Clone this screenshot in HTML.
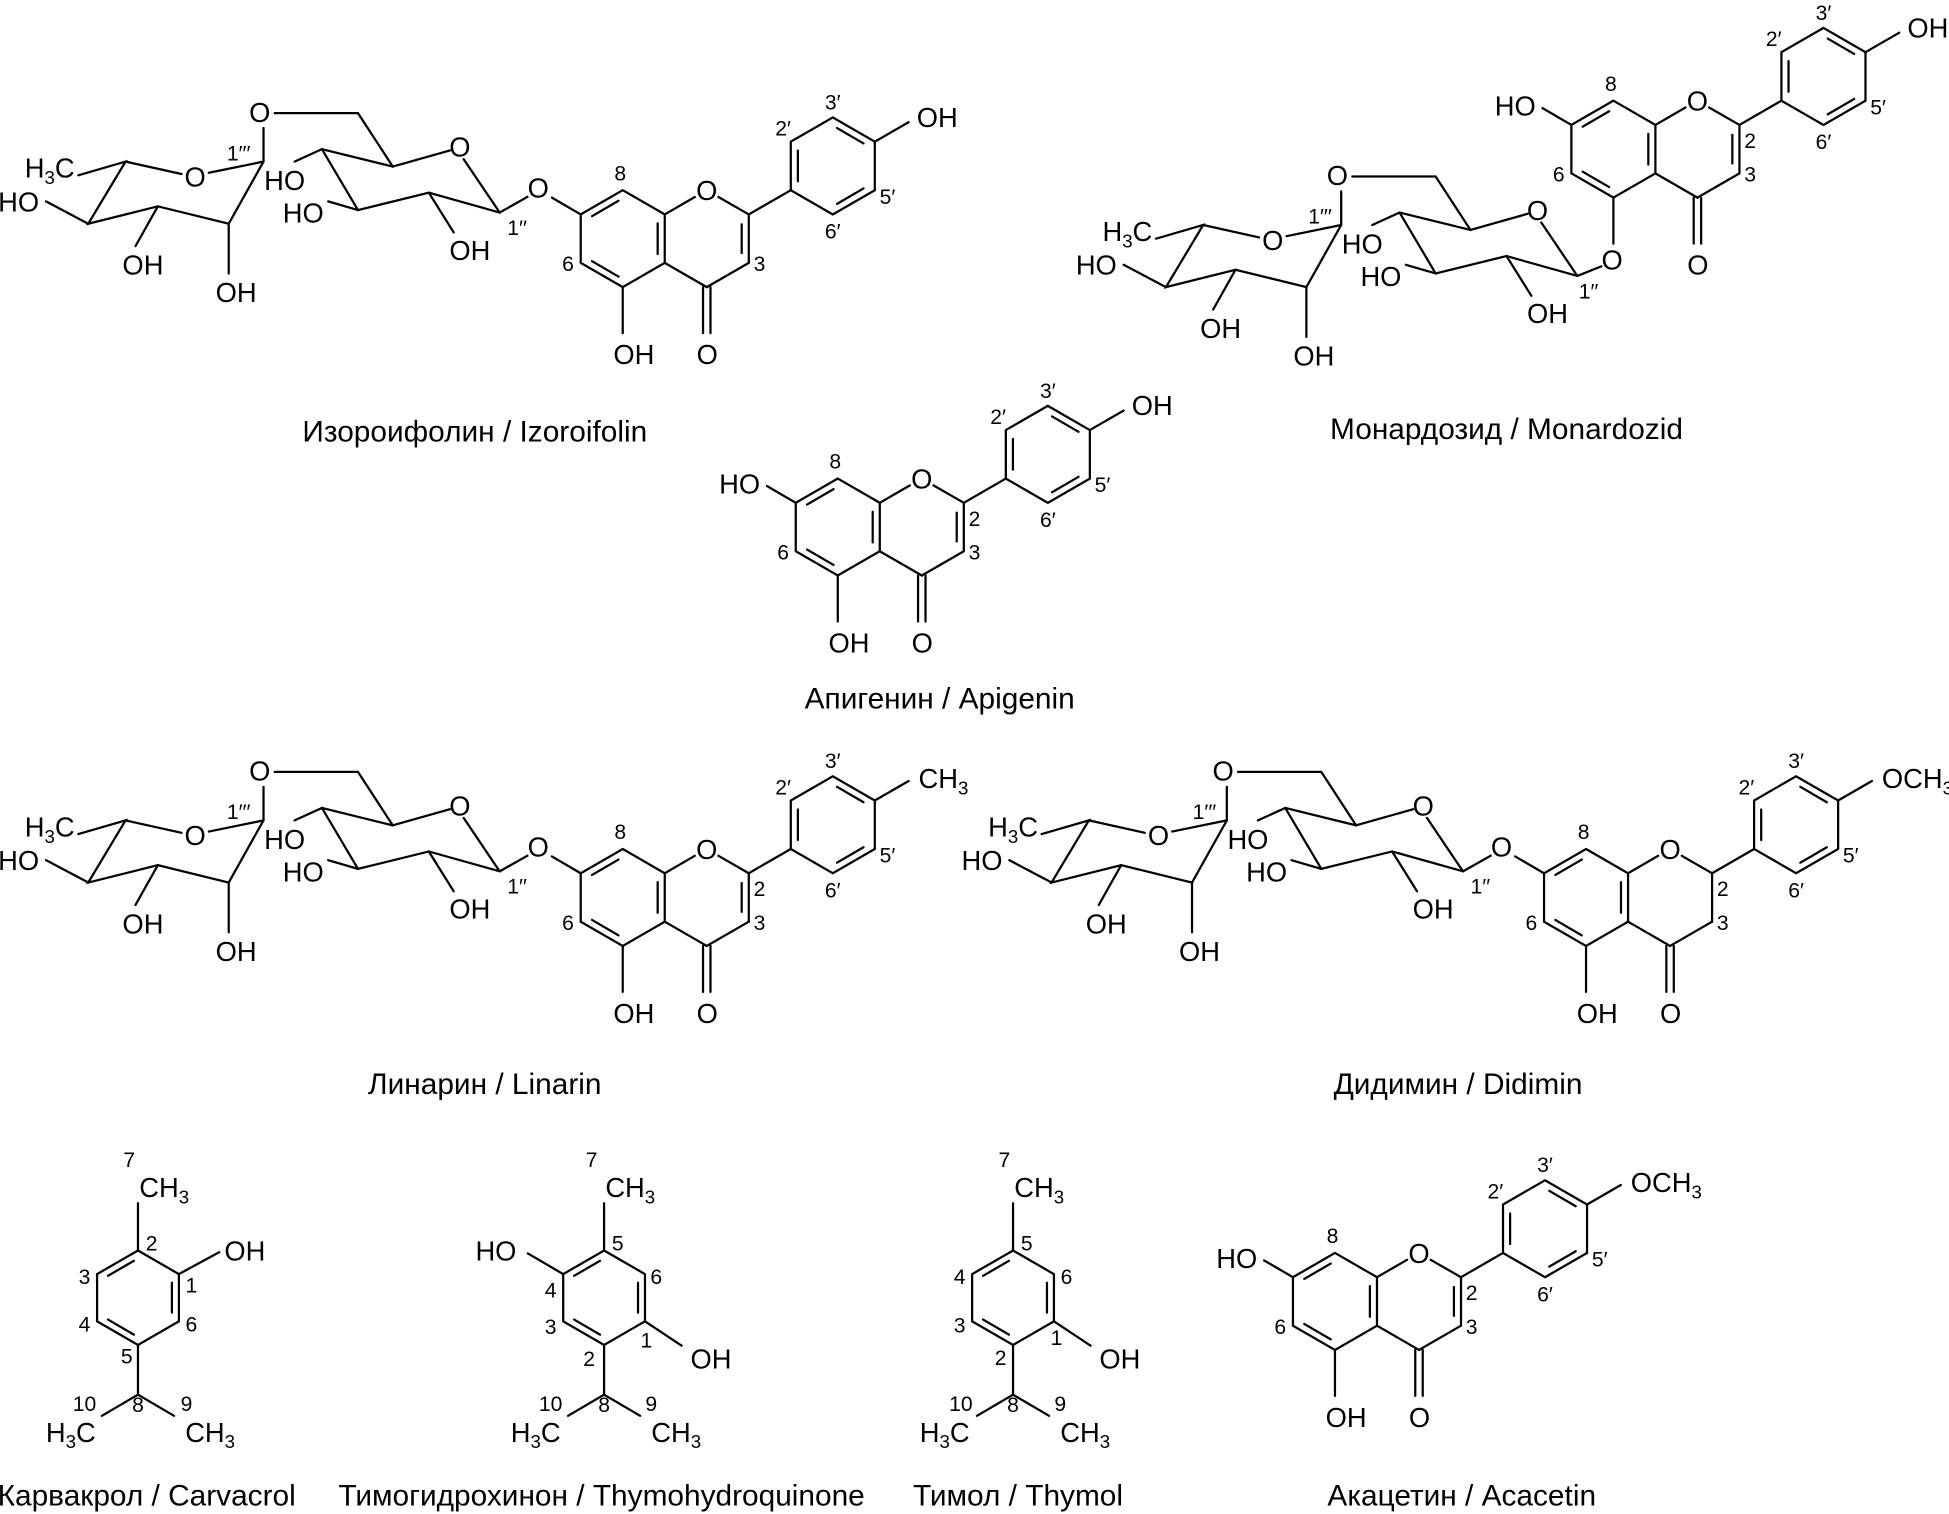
<!DOCTYPE html>
<html><head><meta charset="utf-8"><style>
html,body{margin:0;padding:0;background:#fff}
svg{display:block}
text{font-family:"Liberation Sans Narrow","Liberation Sans",sans-serif;fill:#000}
.t{font-size:22px;text-anchor:middle}
.n{font-size:17px;text-anchor:middle}
.s{font-size:22px;text-anchor:start}
.c{font-size:24px;text-anchor:middle}
</style></head><body>
<svg width="1949" height="1514" viewBox="0 0 1568 1218" preserveAspectRatio="none" xmlns="http://www.w3.org/2000/svg">
<defs>
<g id="core" stroke="#000" stroke-width="1.8" fill="none" stroke-linecap="round">
<polygon points="0,-39 33.8,-19.5 33.8,19.5 0,39 -33.8,19.5 -33.8,-19.5"/>
<line x1="-3.4" y1="-30.5" x2="-24.7" y2="-18.1"/>
<line x1="28.1" y1="-12.3" x2="28.1" y2="12.3"/>
<line x1="-3.4" y1="30.5" x2="-24.7" y2="18.1"/>
<line x1="33.8" y1="-19.5" x2="58" y2="-33.5"/>
<line x1="77" y1="-33.5" x2="101.4" y2="-19.5"/>
<line x1="101.4" y1="-19.5" x2="101.4" y2="19.5"/>
<line x1="101.4" y1="19.5" x2="67.6" y2="39"/>
<line x1="67.6" y1="39" x2="33.8" y2="19.5"/>
<line x1="64.6" y1="39" x2="64.6" y2="76"/>
<line x1="70.6" y1="39" x2="70.6" y2="76"/>
<line x1="0" y1="39" x2="0" y2="76"/>
<line x1="-33.8" y1="-19.5" x2="-57" y2="-33"/>
<line x1="101.4" y1="-19.5" x2="135.2" y2="-39"/>
<polygon points="135.2,-39 135.2,-78 169,-97.5 202.8,-78 202.8,-39 169,-19.5"/>
<line x1="140.9" y1="-70.8" x2="140.9" y2="-46.2"/>
<line x1="172.4" y1="-89" x2="193.7" y2="-76.6"/>
<line x1="193.7" y1="-40.4" x2="172.4" y2="-28"/>
<line x1="202.8" y1="-78" x2="230" y2="-93.7"/>
</g>
<g id="dbl" stroke="#000" stroke-width="1.8" fill="none"><line x1="95.7" y1="-12.3" x2="95.7" y2="12.3"/></g>
<g id="mt" stroke="#000" stroke-width="1.8" fill="none" stroke-linecap="round">
<polygon points="0,-38 32.9,-19 32.9,19 0,38 -32.9,19 -32.9,-19"/>
<line x1="-3.3" y1="-29.7" x2="-24.1" y2="-17.6"/>
<line x1="27.3" y1="-12" x2="27.3" y2="12"/>
<line x1="-24.1" y1="17.6" x2="-3.3" y2="29.7"/>
<line x1="0" y1="-38" x2="0" y2="-76"/>
<line x1="0" y1="38" x2="0" y2="78"/>
<line x1="0" y1="78" x2="-29" y2="95"/>
<line x1="0" y1="78" x2="29" y2="95"/>
</g>
<g id="sug" stroke="#000" stroke-width="1.8" fill="none" stroke-linecap="round">
<polyline points="63,141 101,130 71,180 127,166 184,180 212,130 212,103"/>
<line x1="101" y1="130" x2="146" y2="140"/>
<line x1="168" y1="139" x2="212" y2="130"/>
<line x1="71" y1="180" x2="37" y2="162"/>
<line x1="127" y1="166" x2="109" y2="198"/>
<line x1="184" y1="180" x2="184" y2="220"/>
<polyline points="221,91 288,91 316,134 362,121"/>
<line x1="373" y1="128" x2="402" y2="171"/>
<polyline points="237,130 259,120 316,134"/>
<polyline points="259,120 288,169 345,155 402,171"/>
<line x1="288" y1="169" x2="264" y2="162"/>
<line x1="345" y1="155" x2="365" y2="187"/>
</g>
</defs>

<!-- Isoroifolin -->
<g transform="translate(0,0)">
<use href="#sug"/>
<text class="t" x="40" y="143">H<tspan font-size="15" dy="5">3</tspan><tspan dy="-5">C</tspan></text>
<text class="t" x="15" y="170">HO</text><text class="t" x="115" y="221">OH</text><text class="t" x="190" y="243">OH</text>
<text class="t" x="209" y="98">O</text><text class="n" x="192" y="129">1′′′</text><text class="t" x="157" y="150">O</text>
<text class="t" x="229" y="153">HO</text><text class="t" x="244" y="179">HO</text><text class="t" x="370" y="126">O</text>
<text class="t" x="378" y="209">OH</text><text class="n" x="416" y="189">1′′</text>
</g>
<g stroke="#000" stroke-width="1.8"><line x1="402" y1="171" x2="425" y2="158"/></g>
<g transform="translate(501,192)">
<use href="#core"/><use href="#dbl"/>
<text class="n" x="-2" y="-47">8</text><text class="t" x="67.6" y="-31">O</text>
<text class="n" x="110" y="26">3</text><text class="n" x="-44" y="26">6</text>
<text class="n" x="129" y="-83">2′</text><text class="n" x="169" y="-104">3′</text><text class="n" x="213" y="-28">5′</text><text class="n" x="169" y="0">6′</text>
<text class="t" x="9" y="101">OH</text><text class="t" x="68" y="101">O</text>
<text class="t" x="-68" y="-33">O</text><text class="t" x="253" y="-90">OH</text>
</g>
<text class="c" x="382" y="355">Изороифолин  /  Izoroifolin</text>

<!-- Monardozid -->
<g transform="translate(867,51)">
<use href="#sug"/>
<text class="t" x="40" y="143">H<tspan font-size="15" dy="5">3</tspan><tspan dy="-5">C</tspan></text>
<text class="t" x="15" y="170">HO</text><text class="t" x="115" y="221">OH</text><text class="t" x="190" y="243">OH</text>
<text class="t" x="209" y="98">O</text><text class="n" x="195" y="129">1′′′</text><text class="t" x="157" y="150">O</text>
<text class="t" x="229" y="153">HO</text><text class="t" x="244" y="179">HO</text><text class="t" x="370" y="126">O</text>
<text class="t" x="378" y="209">OH</text><text class="n" x="411" y="189">1′′</text>
</g>
<g stroke="#000" stroke-width="1.8"><line x1="1289" y1="214" x2="1269" y2="222"/></g>
<g transform="translate(1298,120)">
<use href="#core"/><use href="#dbl"/>
<text class="t" x="-79" y="-27">HO</text>
<text class="n" x="-2" y="-47">8</text><text class="t" x="67.6" y="-31">O</text>
<text class="n" x="110" y="-1">2</text><text class="n" x="110" y="26">3</text><text class="n" x="-44" y="26">6</text>
<text class="n" x="129" y="-83">2′</text><text class="n" x="169" y="-104">3′</text><text class="n" x="213" y="-28">5′</text><text class="n" x="169" y="0">6′</text>
<text class="t" x="-1" y="97">O</text><text class="t" x="68" y="101">O</text>
<text class="t" x="253" y="-90">OH</text>
</g>
<text class="c" x="1212" y="353">Монардозид  /  Monardozid</text>

<!-- Apigenin -->
<g transform="translate(674,424)">
<use href="#core"/><use href="#dbl"/>
<text class="t" x="-79" y="-27">HO</text>
<text class="n" x="-2" y="-47">8</text><text class="t" x="67.6" y="-31">O</text>
<text class="n" x="110" y="-1">2</text><text class="n" x="110" y="26">3</text><text class="n" x="-44" y="26">6</text>
<text class="n" x="129" y="-83">2′</text><text class="n" x="169" y="-104">3′</text><text class="n" x="213" y="-28">5′</text><text class="n" x="169" y="0">6′</text>
<text class="t" x="9" y="101">OH</text><text class="t" x="68" y="101">O</text>
<text class="t" x="253" y="-90">OH</text>
</g>
<text class="c" x="756" y="570">Апигенин  /  Apigenin</text>

<!-- Linarin -->
<g transform="translate(0,530)">
<use href="#sug"/>
<text class="t" x="40" y="143">H<tspan font-size="15" dy="5">3</tspan><tspan dy="-5">C</tspan></text>
<text class="t" x="15" y="170">HO</text><text class="t" x="115" y="221">OH</text><text class="t" x="190" y="243">OH</text>
<text class="t" x="209" y="98">O</text><text class="n" x="192" y="129">1′′′</text><text class="t" x="157" y="150">O</text>
<text class="t" x="229" y="153">HO</text><text class="t" x="244" y="179">HO</text><text class="t" x="370" y="126">O</text>
<text class="t" x="378" y="209">OH</text><text class="n" x="416" y="189">1′′</text>
</g>
<g stroke="#000" stroke-width="1.8"><line x1="402" y1="701" x2="425" y2="688"/></g>
<g transform="translate(501,722)">
<use href="#core"/><use href="#dbl"/>
<text class="n" x="-2" y="-47">8</text><text class="t" x="67.6" y="-31">O</text>
<text class="n" x="110" y="-1">2</text><text class="n" x="110" y="26">3</text><text class="n" x="-44" y="26">6</text>
<text class="n" x="129" y="-83">2′</text><text class="n" x="169" y="-104">3′</text><text class="n" x="213" y="-28">5′</text><text class="n" x="169" y="0">6′</text>
<text class="t" x="9" y="101">OH</text><text class="t" x="68" y="101">O</text>
<text class="t" x="-68" y="-33">O</text>
<text class="s" x="238" y="-88">CH<tspan font-size="15" dy="5">3</tspan></text>
</g>
<text class="c" x="390" y="880">Линарин  /  Linarin</text>

<!-- Didimin -->
<g transform="translate(775,530)">
<use href="#sug"/>
<text class="t" x="40" y="143">H<tspan font-size="15" dy="5">3</tspan><tspan dy="-5">C</tspan></text>
<text class="t" x="15" y="170">HO</text><text class="t" x="115" y="221">OH</text><text class="t" x="190" y="243">OH</text>
<text class="t" x="209" y="98">O</text><text class="n" x="194" y="129">1′′′</text><text class="t" x="157" y="150">O</text>
<text class="t" x="229" y="153">HO</text><text class="t" x="244" y="179">HO</text><text class="t" x="370" y="126">O</text>
<text class="t" x="378" y="209">OH</text><text class="n" x="416" y="189">1′′</text>
</g>
<g stroke="#000" stroke-width="1.8"><line x1="1177" y1="701" x2="1200" y2="688"/></g>
<g transform="translate(1276,722)">
<use href="#core"/>
<text class="n" x="-2" y="-47">8</text><text class="t" x="67.6" y="-31">O</text>
<text class="n" x="110" y="-1">2</text><text class="n" x="110" y="26">3</text><text class="n" x="-44" y="26">6</text>
<text class="n" x="129" y="-83">2′</text><text class="n" x="169" y="-104">3′</text><text class="n" x="213" y="-28">5′</text><text class="n" x="169" y="0">6′</text>
<text class="t" x="9" y="101">OH</text><text class="t" x="68" y="101">O</text>
<text class="t" x="-68" y="-33">O</text>
<text class="s" x="238" y="-88">OCH<tspan font-size="15" dy="5">3</tspan></text>
</g>
<text class="c" x="1173" y="880">Дидимин  /  Didimin</text>

<!-- Acacetin -->
<g transform="translate(1074,1047)">
<use href="#core"/><use href="#dbl"/>
<text class="t" x="-79" y="-27">HO</text>
<text class="n" x="-2" y="-47">8</text><text class="t" x="67.6" y="-31">O</text>
<text class="n" x="110" y="-1">2</text><text class="n" x="110" y="26">3</text><text class="n" x="-44" y="26">6</text>
<text class="n" x="129" y="-83">2′</text><text class="n" x="169" y="-104">3′</text><text class="n" x="213" y="-28">5′</text><text class="n" x="169" y="0">6′</text>
<text class="t" x="9" y="101">OH</text><text class="t" x="68" y="101">O</text>
<text class="s" x="238" y="-88">OCH<tspan font-size="15" dy="5">3</tspan></text>
</g>
<text class="c" x="1176" y="1211">Акацетин  /  Acacetin</text>

<!-- Carvacrol -->
<g transform="translate(111,1044)">
<use href="#mt"/>
<g stroke="#000" stroke-width="1.8"><line x1="32.9" y1="-19" x2="66" y2="-37"/></g>
<text class="n" x="-7" y="-105">7</text>
<text class="s" x="1" y="-81">CH<tspan font-size="15" dy="5">3</tspan></text>
<text class="t" x="86" y="-30">OH</text>
<text class="n" x="11" y="-38">2</text><text class="n" x="43" y="-4">1</text><text class="n" x="-43" y="-11">3</text>
<text class="n" x="-43" y="27">4</text><text class="n" x="-9" y="53">5</text><text class="n" x="43" y="27">6</text>
<text class="n" x="0" y="92">8</text><text class="n" x="-43" y="91">10</text><text class="n" x="39" y="91">9</text>
<text class="t" x="-54" y="116">H<tspan font-size="15" dy="5">3</tspan><tspan dy="-5">C</tspan></text>
<text class="s" x="38" y="116">CH<tspan font-size="15" dy="5">3</tspan></text>
</g>
<text class="c" x="118" y="1211">Карвакрол /  Carvacrol</text>

<!-- Thymohydroquinone -->
<g transform="translate(486,1044)">
<use href="#mt"/>
<g stroke="#000" stroke-width="1.8"><line x1="-32.9" y1="-19" x2="-62" y2="-36"/><line x1="32.9" y1="19" x2="63" y2="39"/></g>
<text class="n" x="-10" y="-105">7</text>
<text class="s" x="1" y="-81">CH<tspan font-size="15" dy="5">3</tspan></text>
<text class="t" x="-87" y="-30">HO</text>
<text class="t" x="86" y="57">OH</text>
<text class="n" x="11" y="-38">5</text><text class="n" x="42" y="-11">6</text><text class="n" x="-43" y="0">4</text>
<text class="n" x="-43" y="29">3</text><text class="n" x="34" y="40">1</text><text class="n" x="-12" y="55">2</text>
<text class="n" x="0" y="92">8</text><text class="n" x="-43" y="91">10</text><text class="n" x="38" y="91">9</text>
<text class="t" x="-55" y="116">H<tspan font-size="15" dy="5">3</tspan><tspan dy="-5">C</tspan></text>
<text class="s" x="38" y="116">CH<tspan font-size="15" dy="5">3</tspan></text>
</g>
<text class="c" x="484" y="1211">Тимогидрохинон / Thymohydroquinone</text>

<!-- Thymol -->
<g transform="translate(815,1044)">
<use href="#mt"/>
<g stroke="#000" stroke-width="1.8"><line x1="32.9" y1="19" x2="63" y2="39"/></g>
<text class="n" x="-7" y="-105">7</text>
<text class="s" x="1" y="-81">CH<tspan font-size="15" dy="5">3</tspan></text>
<text class="t" x="86" y="57">OH</text>
<text class="n" x="11" y="-38">5</text><text class="n" x="43" y="-11">6</text><text class="n" x="-43" y="-11">4</text>
<text class="n" x="-43" y="28">3</text><text class="n" x="-10" y="54">2</text><text class="n" x="35" y="38">1</text>
<text class="n" x="0" y="92">8</text><text class="n" x="-42" y="91">10</text><text class="n" x="38" y="91">9</text>
<text class="t" x="-55" y="116">H<tspan font-size="15" dy="5">3</tspan><tspan dy="-5">C</tspan></text>
<text class="s" x="38" y="116">CH<tspan font-size="15" dy="5">3</tspan></text>
</g>
<text class="c" x="819" y="1211">Тимол /  Thymol</text>
</svg>
</body></html>
